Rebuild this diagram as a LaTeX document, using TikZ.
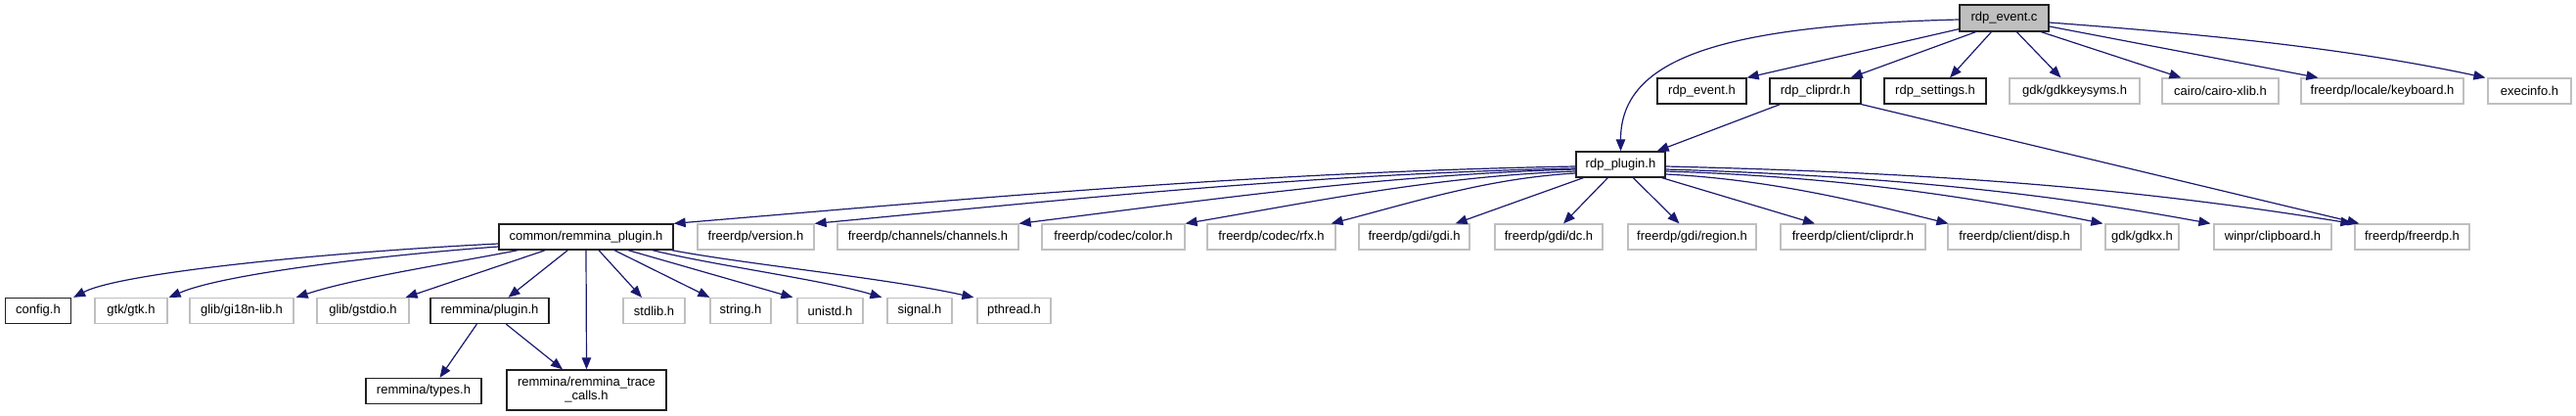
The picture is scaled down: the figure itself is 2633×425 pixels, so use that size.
\documentclass[tikz,border=0pt]{standalone}
\usepackage{fontspec}
\setmainfont{Liberation Sans}
\usetikzlibrary{arrows.meta}
\definecolor{edgeblue}{HTML}{191970}
\definecolor{greyseventyfive}{HTML}{BFBFBF}
\definecolor{docborder}{HTML}{202020}
\tikzset{
  box/.style={rectangle, inner sep=0pt, minimum height=26pt, fill=white, text=black, font=\fontsize{13}{14}\selectfont},
  doc/.style={box, draw=docborder, line width=1.3pt},
  ext/.style={box, draw=greyseventyfive, line width=1.2pt},
  mainfile/.style={box, draw=docborder, line width=1.3pt, fill=greyseventyfive, minimum height=27pt},
  edge/.style={draw=edgeblue, line width=1.2pt, -{Triangle[length=12pt,width=9.5pt]}}
}
\begin{document}
\begin{tikzpicture}[x=1pt,y=-1pt]
\useasboundingbox (0,0) rectangle (2633,425);
% row A
\node[mainfile, minimum width=91] (evc) at (2048.5,18.5) {rdp\_event.c};
% row B
\node[doc, minimum width=91] (evh) at (1739.5,93) {rdp\_event.h};
\node[doc, minimum width=93] (clip) at (1855.5,93) {rdp\_cliprdr.h};
\node[doc, minimum width=104] (sett) at (1978,93) {rdp\_settings.h};
\node[ext, minimum width=133] (keysyms) at (2120.5,93) {gdk/gdkkeysyms.h};
\node[ext, minimum width=119] (cairo) at (2269.5,93) {cairo/cairo-xlib.h};
\node[ext, minimum width=166] (kbd) at (2435,93) {freerdp/locale/keyboard.h};
\node[ext, minimum width=85] (exec) at (2585.5,93) {execinfo.h};
% row C
\node[doc, minimum width=91] (plug) at (1656.5,168) {rdp\_plugin.h};
% row D
\node[doc, minimum width=178] (common) at (599,242) {common/remmina\_plugin.h};
\node[ext, minimum width=119] (version) at (772.5,242) {freerdp/version.h};
\node[ext, minimum width=185] (channels) at (948.5,242) {freerdp/channels/channels.h};
\node[ext, minimum width=146] (color) at (1138,242) {freerdp/codec/color.h};
\node[ext, minimum width=131] (rfx) at (1299.5,242) {freerdp/codec/rfx.h};
\node[ext, minimum width=113] (gdi) at (1445.5,242) {freerdp/gdi/gdi.h};
\node[ext, minimum width=110] (dc) at (1583,242) {freerdp/gdi/dc.h};
\node[ext, minimum width=131] (region) at (1729.5,242) {freerdp/gdi/region.h};
\node[ext, minimum width=148] (ccliprdr) at (1894,242) {freerdp/client/cliprdr.h};
\node[ext, minimum width=136] (disp) at (2059,242) {freerdp/client/disp.h};
\node[ext, minimum width=75] (gdkx) at (2189.5,242) {gdk/gdkx.h};
\node[ext, minimum width=120] (clipboard) at (2323,242) {winpr/clipboard.h};
\node[ext, minimum width=117] (freerdp) at (2465.5,242) {freerdp/freerdp.h};
% row E
\node[doc, minimum width=67] (config) at (39,317.5) {config.h};
\node[ext, minimum width=74] (gtk) at (134,317.5) {gtk/gtk.h};
\node[ext, minimum width=106] (gi18n) at (247,317.5) {glib/gi18n-lib.h};
\node[ext, minimum width=94] (gstdio) at (371,317.5) {glib/gstdio.h};
\node[doc, minimum width=121] (rplugin) at (500.5,317.5) {remmina/plugin.h};
\node[ext, minimum width=63] (stdlib) at (668.5,317.5) {stdlib.h};
\node[ext, minimum width=62] (string) at (757,317.5) {string.h};
\node[ext, minimum width=67] (unistd) at (848.5,317.5) {unistd.h};
\node[ext, minimum width=66] (signal) at (940,317.5) {signal.h};
\node[ext, minimum width=75] (pthread) at (1036.5,317.5) {pthread.h};
% row F
\node[doc, minimum width=118, minimum height=26pt] (types) at (433,399.5) {remmina/types.h};
\node[doc, minimum width=163, minimum height=41pt, align=center] (trace) at (599.5,398.5) {remmina/remmina\_trace\\\_calls.h};

% edges from rdp_event.c
\draw[edge] ([yshift=-1.5]evc.west) .. controls +(-243,6) and +(0,-95) .. (plug.north);
\draw[edge] ([yshift=3]evc.south west) -- (evh.north east);
\draw[edge] ([xshift=17]evc.south west) -- ([xshift=-11]clip.north east);
\draw[edge] ([xshift=33]evc.south west) -- ([xshift=15]sett.north);
\draw[edge] ([xshift=59]evc.south west) -- ([xshift=-14]keysyms.north);
\draw[edge] ([xshift=84]evc.south west) -- ([xshift=20]cairo.north west);
\draw[edge] ([yshift=-8.5]evc.east) -- ([xshift=18]kbd.north west);
\draw[edge] ([yshift=-4.5]evc.east) .. controls +(160,12) and +(-140,-30) .. ([xshift=-2]exec.north west);
% edges from rdp_cliprdr.h
\draw[edge] ([xshift=11]clip.south west) -- ([xshift=-9]plug.north east);
\draw[edge] (clip.south east) -- ([xshift=5]freerdp.north west);
% edges from rdp_plugin.h
\draw[edge] ([yshift=-2]plug.west) .. controls +(-323,6) and +(323,-27) .. (common.north east);
\draw[edge] ([yshift=-4]plug.west) .. controls +(-273,6) and +(273,-26) .. (version.north east);
\draw[edge] ([yshift=-5]plug.west) .. controls +(-200,6) and +(200,-25) .. (channels.north east);
\draw[edge] ([yshift=-7]plug.west) .. controls +(-140,5) and +(140,-24) .. (color.north east);
\draw[edge] ([yshift=-9]plug.west) .. controls +(-88,5) and +(88,-23) .. ([xshift=-5]rfx.north east);
\draw[edge] ([xshift=8]plug.south west) -- ([xshift=-15]gdi.north east);
\draw[edge] ([xshift=33]plug.south west) -- ([xshift=15]dc.north);
\draw[edge] ([xshift=59]plug.south west) -- ([xshift=-13]region.north);
\draw[edge] ([xshift=-4]plug.south east) -- ([xshift=-39]ccliprdr.north);
\draw[edge] ([yshift=-10]plug.east) .. controls +(100,5) and +(-100,-25) .. ([xshift=1]disp.north west);
\draw[edge] ([yshift=-7]plug.east) .. controls +(157,5) and +(-157,-32) .. ([xshift=-2]gdkx.north west);
\draw[edge] ([yshift=-5]plug.east) .. controls +(195,6) and +(-195,-36) .. ([xshift=-3]clipboard.north west);
\draw[edge] ([yshift=-2]plug.east) .. controls +(246,6) and +(-246,-40) .. ([xshift=-2]freerdp.north west);
% edges from common/remmina_plugin.h
\draw[edge] ([yshift=-7]common.west) .. controls +(-180,9) and +(48,-25) .. ([xshift=2]config.north east);
\draw[edge] ([yshift=-10]common.west) .. controls +(-110,8) and +(58,-25) .. ([xshift=1]gtk.north east);
\draw[edge] ([xshift=20]common.south west) .. controls +(-60,12) and +(60,-20) .. ([xshift=2]gi18n.north east);
\draw[edge] ([xshift=48]common.south west) -- ([xshift=-4]gstdio.north east);
\draw[edge] ([xshift=71]common.south west) -- ([xshift=19]rplugin.north);
\draw[edge] (common.south) -- (trace.north);
\draw[edge] ([xshift=13]common.south) -- ([xshift=-12.5]stdlib.north);
\draw[edge] ([xshift=29]common.south) -- (string.north west);
\draw[edge] ([xshift=43]common.south) -- ([xshift=-4]unistd.north west);
\draw[edge] ([xshift=68]common.south) .. controls +(60,15) and +(-60,-18) .. ([xshift=-5]signal.north west);
\draw[edge] ([xshift=-2]common.south east) .. controls +(80,15) and +(-90,-20) .. ([xshift=-3]pthread.north west);
% edges from remmina/plugin.h
\draw[edge] ([xshift=48]rplugin.south west) -- ([xshift=16.5]types.north);
\draw[edge] ([xshift=78]rplugin.south west) -- ([xshift=-24.5]trace.north);
\end{tikzpicture}
\end{document}
